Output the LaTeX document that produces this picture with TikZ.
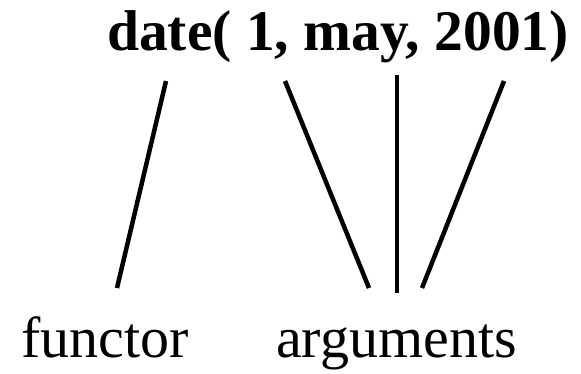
\documentclass[tikz,border=0pt]{standalone}
\usepackage{fontspec}
\setmainfont{Liberation Serif}
\begin{document}
\begin{tikzpicture}[x=1pt,y=-1pt,
  lbl/.style={inner sep=0pt,anchor=base west,font=\fontsize{58}{60}\selectfont},
  title/.style={inner sep=0pt,anchor=base west,font=\fontsize{57.5}{60}\selectfont\bfseries},
  link/.style={line width=4.5pt,line cap=butt}]
\useasboundingbox (0,0) rectangle (581,373);
\node[title] (term) at (107,50) {date( 1, may, 2001)};
\node[lbl] (functor) at (21,357) {functor};
\node[lbl] (args) at (276,357) {arguments};
\coordinate (f1) at (166,81);
\coordinate (f2) at (117,288);
\coordinate (a1t) at (285,81);
\coordinate (a1b) at (369,288);
\coordinate (a2t) at (397,75);
\coordinate (a2b) at (397,293);
\coordinate (a3t) at (504,81);
\coordinate (a3b) at (422,288);
\draw[link] (f1) -- (f2);
\draw[link] (a1t) -- (a1b);
\draw[link] (a2t) -- (a2b);
\draw[link] (a3t) -- (a3b);
\end{tikzpicture}
\end{document}
